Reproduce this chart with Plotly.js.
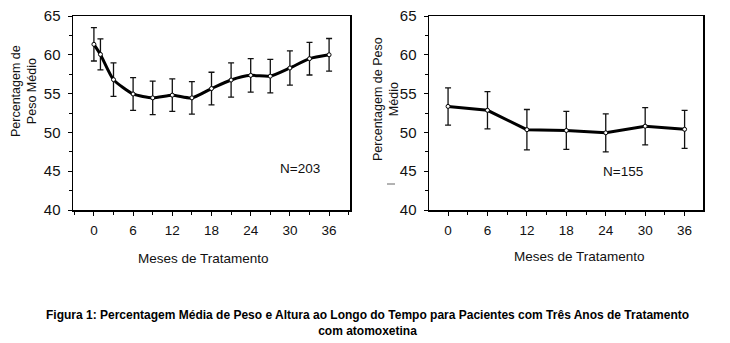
<!DOCTYPE html>
<html>
<head>
<meta charset="utf-8">
<script src="https://cdn.plot.ly/plotly-3.0.1.min.js"></script>
<style>html,body{margin:0;padding:0;background:#fff;}#chart{width:730px;height:343px;}</style>
</head>
<body>
<div id="chart"></div>
<script>
// Left panel (N=203)
const monthsLeft = [0, 1, 3, 6, 9, 12, 15, 18, 21, 24, 27, 30, 33, 36];
const weightLeft = [61.35, 60.05, 56.8, 54.95, 54.45, 54.8, 54.45, 55.65, 56.75, 57.35, 57.25, 58.3, 59.5, 60.0];
const errLeft = [2.15, 2.0, 2.15, 2.1, 2.15, 2.1, 2.1, 2.1, 2.2, 2.15, 2.15, 2.2, 2.1, 2.1];
// Right panel (N=155)
const monthsRight = [0, 6, 12, 18, 24, 30, 36];
const weightRight = [53.35, 52.85, 50.35, 50.25, 49.95, 50.8, 50.4];
const errRight = [2.4, 2.4, 2.6, 2.45, 2.45, 2.4, 2.45];
// Texts
const yTitleLeft = "Percentagem de<br>Peso Médio";
const yTitleRight = "Percentagem de Peso<br>Médio";
const xTitle = "Meses de Tratamento";
const nLeft = "N=203";
const nRight = "N=155";
const caption = "<b>Figura 1: Percentagem Média de Peso e Altura ao Longo do Tempo para Pacientes com Três Anos de Tratamento<br>com atomoxetina</b>";

const W = 730, H = 343;
const px = v => v / W;
const py = v => 1 - v / H;
const FONT = "Liberation Sans, Arial, sans-serif";

function trace(x, y, e, xa, ya, shape) {
  return {
    x: x, y: y, xaxis: xa, yaxis: ya, type: 'scatter', mode: 'lines+markers',
    line: {color: '#000', width: 3, shape: shape, smoothing: 0.6},
    marker: {symbol: 'circle', size: 4, color: '#fff', line: {color: '#000', width: 1}},
    error_y: {type: 'data', array: e, visible: true, color: '#111', thickness: 1.3, width: 3},
    showlegend: false, hoverinfo: 'skip'
  };
}

function xaxis(domain, range, anchor) {
  return {
    domain: domain, range: range, anchor: anchor,
    tickmode: 'linear', tick0: 0, dtick: 6,
    ticks: 'outside', ticklen: 4, tickwidth: 1, tickcolor: '#000',
    minor: {dtick: 3, tick0: 0, ticks: 'outside', ticklen: 3, tickcolor: '#000', tickwidth: 1},
    showline: true, linecolor: '#000', linewidth: 1.5, mirror: true,
    showgrid: false, zeroline: false,
    tickfont: {family: FONT, size: 13.5, color: '#111'},
    ticklabelstandoff: 3, fixedrange: true
  };
}
function yaxis(domain, anchor) {
  return {
    domain: domain, range: [40, 65], anchor: anchor,
    tickmode: 'linear', tick0: 40, dtick: 5,
    ticks: 'outside', ticklen: 4, tickwidth: 1, tickcolor: '#000',
    minor: {dtick: 2.5, tick0: 40, ticks: 'outside', ticklen: 3, tickcolor: '#000', tickwidth: 1},
    showline: true, linecolor: '#000', linewidth: 1.5, mirror: true,
    showgrid: false, zeroline: false,
    tickfont: {family: FONT, size: 15, color: '#111'},
    ticklabelstandoff: 4, fixedrange: true
  };
}

const data = [
  trace(monthsLeft, weightLeft, errLeft, 'x', 'y', 'spline'),
  trace(monthsRight, weightRight, errRight, 'x2', 'y2', 'linear')
];

const yDom = [py(210), py(16)];
const layout = {
  width: W, height: H, autosize: false,
  margin: {l: 0, r: 0, t: 0, b: 0},
  paper_bgcolor: '#fff', plot_bgcolor: '#fff',
  xaxis: xaxis([px(73), px(350)], [-3.2, 39.2], 'y'),
  yaxis: yaxis(yDom, 'x'),
  xaxis2: xaxis([px(429), px(703)], [-2.9, 38.8], 'y2'),
  yaxis2: yaxis(yDom, 'x2'),
  annotations: [
    {xref: 'paper', yref: 'paper', x: px(24), y: py(91), text: yTitleLeft, textangle: -90, showarrow: false,
     xanchor: 'center', yanchor: 'middle', font: {family: FONT, size: 12.5, color: '#111'}},
    {xref: 'paper', yref: 'paper', x: px(386), y: py(99), text: yTitleRight, textangle: -90, showarrow: false,
     xanchor: 'center', yanchor: 'middle', font: {family: FONT, size: 12.5, color: '#111'}},
    {xref: 'paper', yref: 'paper', x: px(203), y: py(258), text: xTitle, showarrow: false,
     xanchor: 'center', yanchor: 'middle', font: {family: FONT, size: 13.5, color: '#111'}},
    {xref: 'paper', yref: 'paper', x: px(579), y: py(256), text: xTitle, showarrow: false,
     xanchor: 'center', yanchor: 'middle', font: {family: FONT, size: 13.5, color: '#111'}},
    {xref: 'x', yref: 'y', x: 31.5, y: 45.4, text: nLeft, showarrow: false,
     xanchor: 'center', yanchor: 'middle', font: {family: FONT, size: 13.5, color: '#111'}},
    {xref: 'x2', yref: 'y2', x: 26.7, y: 44.9, text: nRight, showarrow: false,
     xanchor: 'center', yanchor: 'middle', font: {family: FONT, size: 13.5, color: '#111'}},
    {xref: 'paper', yref: 'paper', x: px(367), y: py(322.5), text: caption, showarrow: false,
     xanchor: 'center', yanchor: 'middle', align: 'center',
     font: {family: FONT, size: 12, color: '#000'}}
  ],
  shapes: [
    {type: 'line', xref: 'paper', yref: 'paper', x0: px(387), x1: px(395), y0: py(184), y1: py(184),
     line: {color: '#666', width: 1}}
  ]
};

Plotly.newPlot('chart', data, layout, {staticPlot: true, displayModeBar: false});
</script>
</body>
</html>
